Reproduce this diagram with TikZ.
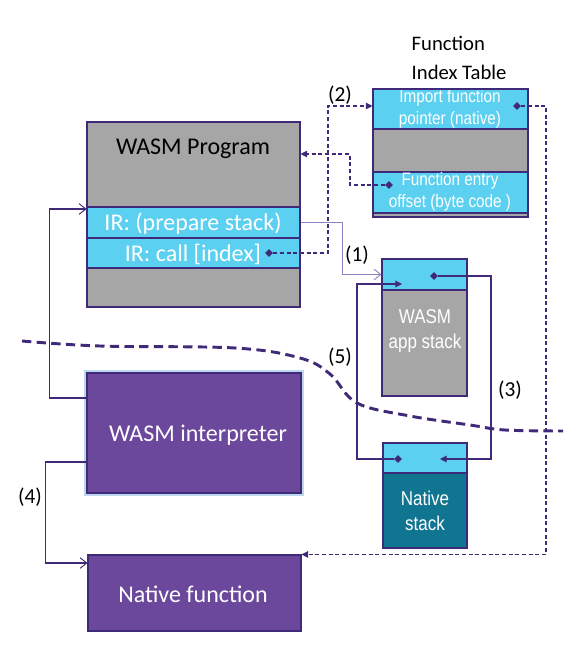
\documentclass[tikz,border=0pt]{standalone}
\usepackage{fontspec}
\setmainfont{Carlito}
\newfontfamily\narrowfont[FakeStretch=0.85]{Liberation Sans}
\usetikzlibrary{arrows.meta,fit,shapes.geometric}
\definecolor{edgepurple}{HTML}{3F2A7A}
\definecolor{softpurple}{HTML}{8C82C6}
\definecolor{boxpurple}{HTML}{6B489C}
\definecolor{cellblue}{HTML}{5BD0F0}
\definecolor{cellgray}{HTML}{A6A6A6}
\definecolor{cellteal}{HTML}{107590}
\definecolor{glowblue}{HTML}{BDD7EE}
\begin{document}
\begin{tikzpicture}[x=0.75pt,y=-0.75pt,
    box/.style={draw=edgepurple, line width=0.8pt, inner sep=0pt},
    gray cell/.style={box, fill=cellgray},
    blue cell/.style={box, fill=cellblue},
    teal cell/.style={box, fill=cellteal},
    big text/.style={font=\fontsize{18}{21}\selectfont},
    white text/.style={big text, text=white},
    purple box/.style={box, fill=boxpurple},
    narrow text/.style={font=\narrowfont\fontsize{13.5}{17}\selectfont, align=center, text=white},
    stack text/.style={font=\narrowfont\fontsize{15}{18.5}\selectfont, align=center, text=white},
    dot/.style={diamond, fill=edgepurple, inner sep=0pt, minimum size=6pt},
    conn/.style={draw=edgepurple, line width=0.8pt},
    ptr/.style={conn, dash pattern=on 3pt off 2pt, -{Triangle[length=5pt,width=5pt]}},
    call/.style={conn, -{Triangle[length=5pt,width=5pt]}},
    jump/.style={conn, -{Straight Barb[length=5pt,width=8pt,line width=0.7pt]}},
    steplabel/.style={font=\fontsize{16}{19}\selectfont},
    border line/.style={draw=edgepurple, line width=2.2pt, dash pattern=on 7pt off 4pt}]

\useasboundingbox (0,0) rectangle (564,659);

% WASM program
\node (prog) [gray cell, fit={(87,122) (300,307)}] {};
\node (progtitle) [big text] at (193,149) {WASM Program};
\node (irprep) [blue cell, fit={(87,207) (300,238)}] {};
\node (irpreptext) [white text] at (193,224) {IR: (prepare stack)};
\node (ircall) [blue cell, fit={(87,238) (300,268)}] {};
\node (ircalltext) [white text] at (193,254) {IR: call [index]};
\node (dcall) [dot] at (269,253) {};

% function index table
\node (tabletitle) [anchor=west, align=left, font=\fontsize{15.5}{21.5}\selectfont] at (407,58) {Function\\Index Table};
\node (imp) [blue cell, fit={(373,89) (528,129)}] {};
\node (imptext) [narrow text] at (450,109) {Import function\\pointer (native)};
\node (gap) [gray cell, fit={(373,129) (528,172)}] {};
\node (entry) [blue cell, fit={(373,172) (528,213)}] {};
\node (entrytext) [narrow text] at (450,192) {Function entry\\offset (byte code )};
\node (tail) [gray cell, fit={(373,213) (528,217)}] {};
\node (table) [box, fit={(373,89) (528,217)}] {};
\node (dimp) [dot] at (517,106) {};
\node (dentry) [dot] at (389,185) {};

% stacks
\node (app) [gray cell, fit={(382,259) (467,396)}] {};
\node (apptop) [blue cell, fit={(382,259) (467,290)}] {};
\node (apptext) [stack text] at (425,331) {WASM\\app stack};
\node (dapp) [dot] at (434,276) {};
\coordinate (appin) at (402,284);
\node (native) [teal cell, fit={(383,473) (467,548)}] {};
\node (nativetop) [blue cell, fit={(383,443) (467,473)}] {};
\node (nativetext) [stack text] at (425,511) {Native\\stack};
\node (dnat) [dot] at (398,459) {};
\coordinate (nativein) at (440,459);

% interpreter and native code
\node (interp) [purple box, fit={(87,373) (301,493)}, preaction={draw=glowblue, line width=4pt}] {};
\node (interptext) [white text] at (198,435) {WASM interpreter};
\node (nfunc) [purple box, fit={(88,555) (301,631)}] {};
\node (nfunctext) [white text] at (193,594) {Native function};

% boundary
\draw[border line] plot[smooth, tension=0.6] coordinates {(22,341) (100,346) (235,348) (300,358) (330,374) (357,403) (410,416) (470,425) (505,430) (563,431)};

% connectors
\draw[ptr] (dcall) -- ++(59,0) |- (imp.west |- 0,106);
\draw[ptr] (dentry) -- ++(-39,0) |- (prog.east |- 0,154);
\draw[ptr] (dimp) -- ++(29,0) |- (nfunc.north east);
\draw[jump, draw=softpurple] (irprep.east) -- ++(42,0) |- (apptop.west);
\draw[call] (dapp) -- ++(57,0) |- (nativein);
\draw[call] (dnat) -- ++(-41,0) |- (appin);
\draw[jump] (interp.west |- 0,398) -- ++(-37,0) |- (irprep.west |- 0,209);
\draw[jump] (interp.west |- 0,462) -- ++(-41,0) |- (nfunc.west |- 0,563);

\node (lab1) [steplabel] at (357,255) {(1)};
\node (lab2) [steplabel] at (340,95) {(2)};
\node (lab3) [steplabel] at (510,390) {(3)};
\node (lab4) [steplabel] at (30,497) {(4)};
\node (lab5) [steplabel] at (340,357) {(5)};

\end{tikzpicture}
\end{document}
